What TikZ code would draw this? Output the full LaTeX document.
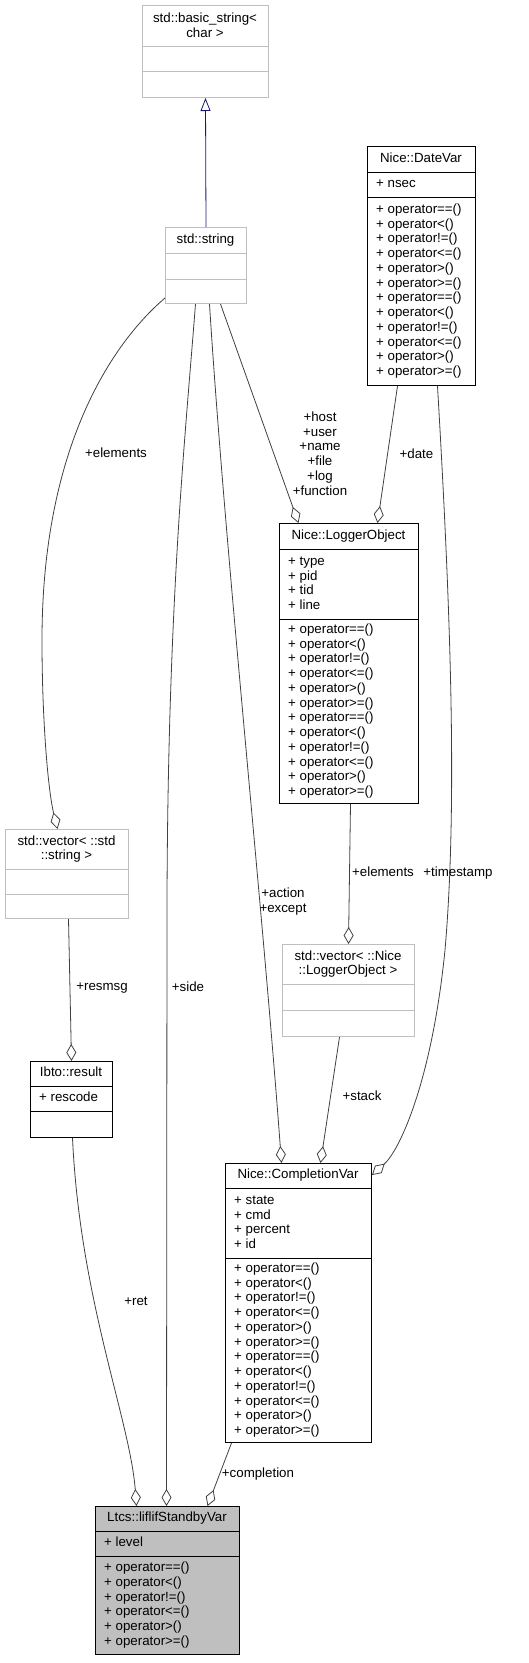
\documentclass[tikz,border=0pt]{standalone}
\usepackage{fontspec}
\setmainfont{Liberation Sans}
\usetikzlibrary{arrows.meta}
\definecolor{edgegray}{HTML}{404040}
\definecolor{boxgray}{HTML}{BFBFBF}
\definecolor{navy}{HTML}{191970}

\begin{document}
\begin{tikzpicture}[x=1pt, y=-1pt,
    font=\fontsize{13.3}{14.75}\selectfont,
    cls/.style={draw=black, line width=1pt, inner sep=0pt, anchor=north west},
    dimcls/.style={cls, draw=boxgray},
    txt/.style={inner sep=0pt, text height=9.6pt, text depth=2.8pt},
    mem/.style={txt, anchor=west},
    lbl/.style={inner sep=0pt, align=center},
    edge/.style={draw=edgegray, line width=0.8pt, -{Diamond[open, length=17pt, width=10pt]}},
    isa/.style={draw=navy, line width=0.8pt, -{Triangle[open, length=13pt, width=10pt]}}]

    \useasboundingbox (0,0) rectangle (528,1663);

    % classes
    \node[dimcls, minimum width=126pt, minimum height=92pt] (basic) at (142,5) {};
    \draw[boxgray, line width=1pt] (142,46) -- (268,46) (142,71) -- (268,71);
    \node[lbl] at (205,25.5) {std::basic\_string<\\char >};

    \node[dimcls, minimum width=81pt, minimum height=76pt] (str) at (165,227) {};
    \draw[boxgray, line width=1pt] (165,253) -- (246,253) (165,279) -- (246,279);
    \node[txt] at (205.5,240) {std::string};

    \node[cls, minimum width=108pt, minimum height=239pt] (date) at (367,146) {};
    \draw[line width=1pt] (367,172) -- (475,172) (367,197) -- (475,197);
    \node[txt] at (421,159) {Nice::DateVar};
    \node[mem] at (376,184.5) {+ nsec};
    \foreach \op [count=\i from 0] in {==,<,!=,<=,>,>=,==,<,!=,<=,>,>=}
        \node[mem] at (376,209.9+14.75*\i) {+ operator\op()};

    \node[cls, minimum width=139pt, minimum height=280pt] (logger) at (279,523) {};
    \draw[line width=1pt] (279,549) -- (418,549) (279,619) -- (418,619);
    \node[txt] at (348.5,536) {Nice::LoggerObject};
    \foreach \m [count=\i from 0] in {type,pid,tid,line}
        \node[mem] at (288,561.9+14.75*\i) {+ \m};
    \foreach \op [count=\i from 0] in {==,<,!=,<=,>,>=,==,<,!=,<=,>,>=}
        \node[mem] at (288,629.9+14.75*\i) {+ operator\op()};

    \node[dimcls, minimum width=123pt, minimum height=89pt] (vecstr) at (5,829) {};
    \draw[boxgray, line width=1pt] (5,869) -- (128,869) (5,894) -- (128,894);
    \node[lbl] at (66.5,849) {std::vector< ::std\\::string >};

    \node[dimcls, minimum width=132pt, minimum height=92pt] (veclog) at (282,944) {};
    \draw[boxgray, line width=1pt] (282,984) -- (414,984) (282,1010) -- (414,1010);
    \node[lbl] at (348,964) {std::vector< ::Nice\\::LoggerObject >};

    \node[cls, minimum width=82pt, minimum height=76pt] (ibto) at (30,1061) {};
    \draw[line width=1pt] (30,1086) -- (112,1086) (30,1111) -- (112,1111);
    \node[txt] at (71,1073.5) {Ibto::result};
    \node[mem] at (39,1098.5) {+ rescode};

    \node[cls, minimum width=146pt, minimum height=279pt] (compl) at (225,1163) {};
    \draw[line width=1pt] (225,1188) -- (371,1188) (225,1258) -- (371,1258);
    \node[txt] at (298,1175.5) {Nice::CompletionVar};
    \foreach \m [count=\i from 0] in {state,cmd,percent,id}
        \node[mem] at (234,1200.9+14.75*\i) {+ \m};
    \foreach \op [count=\i from 0] in {==,<,!=,<=,>,>=,==,<,!=,<=,>,>=}
        \node[mem] at (234,1268.9+14.75*\i) {+ operator\op()};

    \node[cls, fill=boxgray, minimum width=144pt, minimum height=148pt] (ltcs) at (95,1506) {};
    \draw[line width=1pt] (95,1531) -- (239,1531) (95,1556) -- (239,1556);
    \node[txt] at (167,1518.5) {Ltcs::liflifStandbyVar};
    \node[mem] at (104,1543.5) {+ level};
    \foreach \op [count=\i from 0] in {==,<,!=,<=,>,>=}
        \node[mem] at (104,1568.1+14.75*\i) {+ operator\op()};

    % relations
    \draw[isa] (str.north) -- (basic.south);
    \draw[edge] ([yshift=6pt]str.south west) .. controls (110,345) and (42,450) .. (42,640)
        .. controls (42,720) and (48,790) .. ([xshift=-9.5pt]vecstr.north);
    \node[lbl] at (116,453) {+elements};
    \draw[edge] ([xshift=-10.5pt]str.south) .. controls (185,440) and (168,600) .. (167,900)
        -- ([xshift=-1pt]ltcs.north);
    \node[lbl] at (188,987) {+side};
    \draw[edge] ([xshift=3.5pt]str.south) .. controls (225,550) and (262,900) .. ([xshift=-17pt]compl.north);
    \node[lbl] at (283,901.5) {+action\\+except};
    \draw[edge] ([xshift=14.5pt]str.south) -- ([xshift=-50.5pt]logger.north);
    \node[lbl] at (320,453.5) {+host\\+user\\+name\\+file\\+log\\+function};
    \draw[edge] ([xshift=-24pt]date.south) -- ([xshift=28.5pt]logger.north);
    \node[lbl] at (416.5,454) {+date};
    \draw[edge] ([xshift=16pt]date.south) .. controls (450,600) and (458,800) .. (445,950)
        .. controls (432,1080) and (400,1150) .. ([yshift=-12pt]compl.north east);
    \node[lbl] at (458,873) {+timestamp};
    \draw[edge] ([xshift=1.5pt]logger.south) -- (veclog.north);
    \node[lbl] at (383,872) {+elements};
    \draw[edge] ([xshift=-9pt]veclog.south) -- ([xshift=22pt]compl.north);
    \node[lbl] at (362,1096) {+stack};
    \draw[edge] ([xshift=1.5pt]vecstr.south) -- (ibto.north);
    \node[lbl] at (102,988) {+resmsg};
    \draw[edge] ([xshift=1pt]ibto.south) .. controls (80,1300) and (130,1420) .. ([xshift=-31pt]ltcs.north);
    \node[lbl] at (136,1301) {+ret};
    \draw[edge] ([xshift=-67pt]compl.south) -- ([xshift=40pt]ltcs.north);
    \node[lbl] at (258,1474) {+completion};
\end{tikzpicture}
\end{document}
